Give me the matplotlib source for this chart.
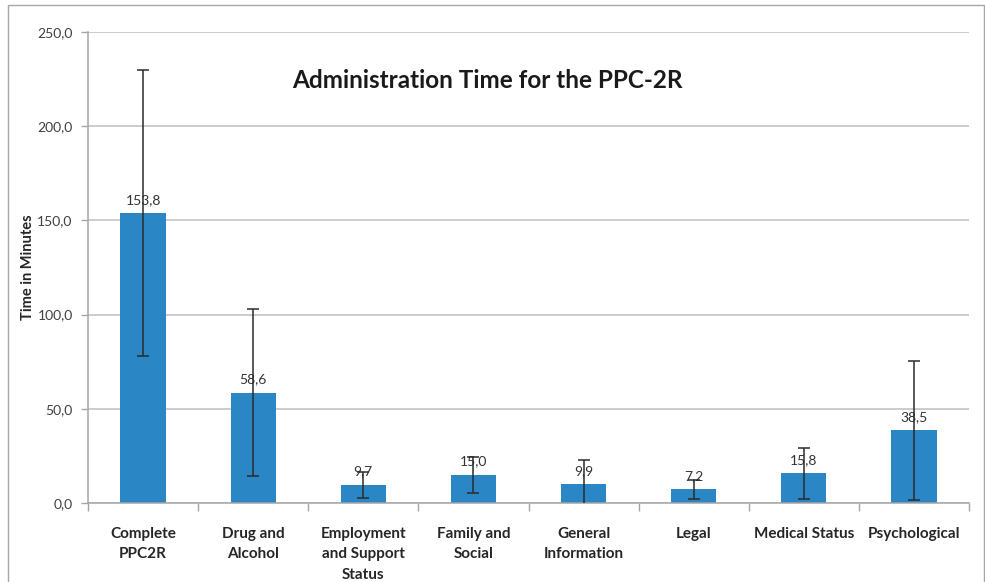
import matplotlib
matplotlib.use("Agg")
import matplotlib.pyplot as plt
from matplotlib.patches import Rectangle
import numpy as np

categories = ["Complete\nPPC2R", "Drug and\nAlcohol", "Employment\nand Support\nStatus",
              "Family and\nSocial", "General\nInformation", "Legal", "Medical Status", "Psychological"]
values = [153.8, 58.6, 9.7, 15.0, 9.9, 7.2, 15.8, 38.5]
errors = [76.0, 44.5, 6.8, 9.6, 12.7, 5.2, 13.5, 37.0]
yticks = [0, 50, 100, 150, 200, 250]

plt.rcParams['font.family'] = ['Lato', 'DejaVu Sans']

fig = plt.figure(figsize=(9.85, 5.82), dpi=100)
ax = fig.add_axes([88/985, 1-503/582, (969-88)/985, (503-32)/582])

x = np.arange(len(categories))
bar_color = "#2A86C4"
ax.bar(x, values, width=0.41, color=bar_color, zorder=2)

# data labels
for xi, v in zip(x, values):
    ax.text(xi, v + 4, f"{v:.1f}".replace(".", ","), ha="center", va="bottom",
            fontsize=10, color="#333333", zorder=3)

ax.errorbar(x, values, yerr=errors, fmt="none", ecolor="#2b2b2b", elinewidth=1.1,
            capsize=4, capthick=1.1, zorder=4, clip_on=True)

ax.set_xlim(-0.5, len(categories) - 0.5)
ax.set_ylim(0, 250)
ax.set_yticks(yticks)
ax.set_yticklabels([f"{t:.1f}".replace(".", ",") for t in yticks], fontsize=10, color="#404040")
ax.yaxis.grid(True, color="#BFBFBF", linewidth=1.1, zorder=0)
ax.set_axisbelow(True)

ax.set_xticks(x)
ax.set_xticklabels(categories, fontsize=11, fontweight="bold", color="#262626", linespacing=1.62)
ax.tick_params(axis="x", length=0, pad=17)
ax.set_xticks(np.arange(-0.5, len(categories) + 0.5, 1), minor=True)
ax.tick_params(axis="x", which="minor", length=6, color="#A6A6A6", width=1)
ax.tick_params(axis="y", length=5, color="#A6A6A6", width=1, pad=6)

for s in ["top", "right"]:
    ax.spines[s].set_visible(False)
for s in ["left", "bottom"]:
    ax.spines[s].set_color("#A6A6A6")
    ax.spines[s].set_linewidth(1.1)

ax.set_ylabel("Time in Minutes", fontsize=10.5, fontweight="bold", color="#262626", labelpad=2)

fig.text(487/985, 1-80/582, "Administration Time for the PPC-2R", ha="center", va="center",
         fontsize=17.5, fontweight="bold", color="#1a1a1a")

fig.patches.append(Rectangle((8/985, -0.02), (984-8)/985, 1-5/582+0.02, transform=fig.transFigure,
                             fill=False, edgecolor="#A6A6A6", linewidth=1))

fig.savefig("out.png", dpi=100)
